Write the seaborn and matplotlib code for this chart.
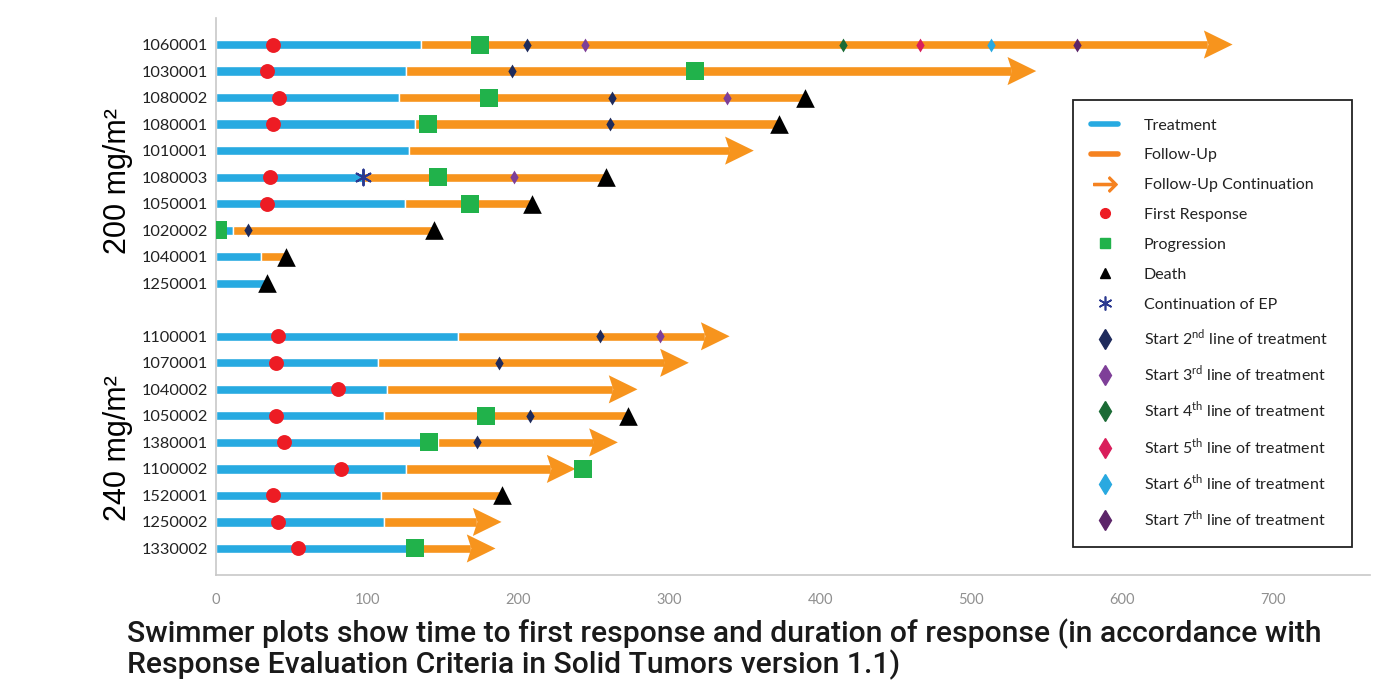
import numpy as np
import pandas as pd
import matplotlib
matplotlib.use("Agg")
import matplotlib.pyplot as plt
import matplotlib.transforms as mtransforms
from matplotlib.lines import Line2D
import seaborn as sns

nan = np.nan

# one row per patient, top to bottom
patients = ["1060001", "1030001", "1080002", "1080001", "1010001", "1080003", "1050001",
            "1020002", "1040001", "1250001",
            "1100001", "1070001", "1040002", "1050002", "1380001", "1100002", "1520001",
            "1250002", "1330002"]
dose = ["200"] * 10 + ["240"] * 9
treatment_end = [136, 126, 121, 132, 128, 97, 125, 11, 30, 33,
                 160, 107, 113, 111, 147, 126, 109, 111, 127]
followup_end = [673, 543, 390, 373, 356, 258, 209, 144, 46, 34,
                340, 313, 279, 273, 266, 238, 189, 189, 185]
continuing = [True, True, False, False, True, False, False, False, False, False,
              True, True, True, False, True, True, False, True, True]
first_response = [38, 34, 42, 38, nan, 36, 34, nan, nan, nan,
                  41, 40, 81, 40, 45, 83, 38, 41, 54]
progression = [175, 317, 181, 140, nan, 147, 168, 1, nan, nan,
               nan, nan, nan, 179, 141, 243, nan, nan, 132]
death = [nan, nan, 390, 373, nan, 258, 209, 144, 46, 34,
         nan, nan, nan, 273, nan, nan, 189, nan, nan]
ep_continuation = [nan, nan, nan, nan, nan, 97, nan, nan, nan, nan,
                   nan, nan, nan, nan, nan, nan, nan, nan, nan]
line2 = [206, 196, 262, 261, nan, nan, nan, 21, nan, nan,
         254, 187, nan, 208, 173, nan, nan, nan, nan]
line3 = [244, nan, 338, nan, nan, 197, nan, nan, nan, nan,
         294, nan, nan, nan, nan, nan, nan, nan, nan]
line4 = [415] + [nan] * 18
line5 = [466] + [nan] * 18
line6 = [513] + [nan] * 18
line7 = [570] + [nan] * 18

groups = ["200", "240"]
group_labels = ["200 mg/m²", "240 mg/m²"]
caption = ("Swimmer plots show time to first response and duration of response (in accordance with\n"
           "Response Evaluation Criteria in Solid Tumors version 1.1)")

BLUE = "#27aae1"
ORANGE = "#f7941d"

df = pd.DataFrame({
    "patient": patients, "dose": dose, "tx_end": treatment_end, "fu_end": followup_end,
    "cont": continuing, "fr": first_response, "prog": progression, "death": death,
    "ep": ep_continuation, "l2": line2, "l3": line3, "l4": line4, "l5": line5,
    "l6": line6, "l7": line7,
})
# leave an empty row between the two dose groups
df["pos"] = np.arange(len(df)) + df["dose"].map({g: i for i, g in enumerate(groups)})

sns.set_theme(style="white")
plt.rcParams["font.family"] = ["Lato", "DejaVu Sans"]
plt.rcParams["mathtext.fontset"] = "custom"
plt.rcParams["mathtext.rm"] = "Lato"

fig = plt.figure(figsize=(13.85, 6.85), dpi=100)
ax = fig.add_axes([0.156, 0.1606, 0.8332, 0.8131])

bar_h = 0.35
head_len, head_half, notch = 19, 0.53, 3

ax.barh(df["pos"], df["tx_end"], height=bar_h, color=BLUE, zorder=2)
shaft_end = np.where(df["cont"], df["fu_end"] - head_len + notch, df["fu_end"])
ax.barh(df["pos"], shaft_end - df["tx_end"], left=df["tx_end"], height=bar_h,
        color=ORANGE, zorder=2)
for _, r in df[df["cont"]].iterrows():
    tip, y = r["fu_end"], r["pos"]
    ax.fill([tip, tip - head_len, tip - head_len + notch, tip - head_len],
            [y, y - head_half, y, y + head_half], color=ORANGE, lw=0, zorder=2)

events = [
    ("l2", "d", 50, "#1f2b5c"),
    ("l3", "d", 50, "#7e3f98"),
    ("l4", "d", 50, "#1b6b35"),
    ("l5", "d", 50, "#d91e5b"),
    ("l6", "d", 50, "#29a9e0"),
    ("l7", "d", 50, "#5c2569"),
    ("prog", "s", 155, "#21b24b"),
    ("fr", "o", 115, "#ed1c24"),
    ("death", "^", 180, "black"),
]
for col, mk, size, c in events:
    sns.scatterplot(x=df[col], y=df["pos"], marker=mk, s=size, color=c,
                    linewidth=0, ax=ax, zorder=4)
ax.scatter(df["ep"], df["pos"], marker=(6, 2, 0), s=130, color="#2b3990",
           linewidths=1.4, zorder=4)

ax.set_xlim(0, 764)
ax.set_ylim(20.0, -1.0)
ax.set_yticks(df["pos"])
ax.set_yticklabels(df["patient"])
ax.set_xticks(range(0, 701, 100))
ax.set_xlabel("")
ax.set_ylabel("")
ax.tick_params(axis="y", length=0, pad=6, labelsize=11.8, labelcolor="#222222")
ax.tick_params(axis="x", length=0, pad=13, labelsize=10.5, labelcolor="#909090")
sns.despine(ax=ax)
for s in ["left", "bottom"]:
    ax.spines[s].set_color("#c8c8c8")
    ax.spines[s].set_linewidth(1.2)

trans = mtransforms.blended_transform_factory(fig.transFigure, ax.transData)
for g, lab, shift in zip(groups, group_labels, [0.65, 0.2]):
    yc = df.loc[df["dose"] == g, "pos"].mean() + shift
    ax.text(0.085, yc, lab, transform=trans, rotation=90, ha="center", va="center",
            fontsize=22, family=["Liberation Sans", "DejaVu Sans"], color="black")

handles = [
    Line2D([], [], color=BLUE, lw=4, label="Treatment"),
    Line2D([], [], color="#f58220", lw=4, label="Follow-Up"),
    Line2D([], [], color="#f58220", marker=r"$\rightarrow$", ms=17, ls="none",
           label="Follow-Up Continuation"),
    Line2D([], [], color="#ed1c24", marker="o", ms=7, ls="none", label="First Response"),
    Line2D([], [], color="#21b24b", marker="s", ms=7, ls="none", label="Progression"),
    Line2D([], [], color="black", marker="^", ms=7.5, ls="none", label="Death"),
    Line2D([], [], color="#2b3990", marker=(6, 2, 0), ms=10, mew=1.2, ls="none",
           label="Continuation of EP"),
]
line_cols = ["#1f2b5c", "#7e3f98", "#1b6b35", "#d91e5b", "#29a9e0", "#5c2569"]
ordinals = ["2$^{\\mathrm{nd}}$", "3$^{\\mathrm{rd}}$", "4$^{\\mathrm{th}}$",
            "5$^{\\mathrm{th}}$", "6$^{\\mathrm{th}}$", "7$^{\\mathrm{th}}$"]
for c, o in zip(line_cols, ordinals):
    handles.append(Line2D([], [], color=c, marker="d", ms=10, ls="none",
                          label=f"Start {o} line of treatment"))
leg = fig.legend(handles=handles, loc="upper left",
                 bbox_to_anchor=(0.7745, 0.854 - 0.65, 0.2017, 0.65), mode="expand",
                 frameon=True, fancybox=False, edgecolor="#222222", framealpha=1,
                 fontsize=11.5, labelspacing=0.98, borderpad=1.15, handlelength=1.7,
                 handletextpad=1.6, borderaxespad=0)
leg.get_frame().set_linewidth(1.3)
for t in leg.get_texts():
    t.set_color("#222222")

fig.text(0.0917, 1 - 619 / 685, caption, ha="left", va="top", fontsize=21.7,
         family=["Roboto", "DejaVu Sans"], fontweight="medium", color="#1a1a1a",
         linespacing=1.0)

fig.savefig("out.png", dpi=100)
